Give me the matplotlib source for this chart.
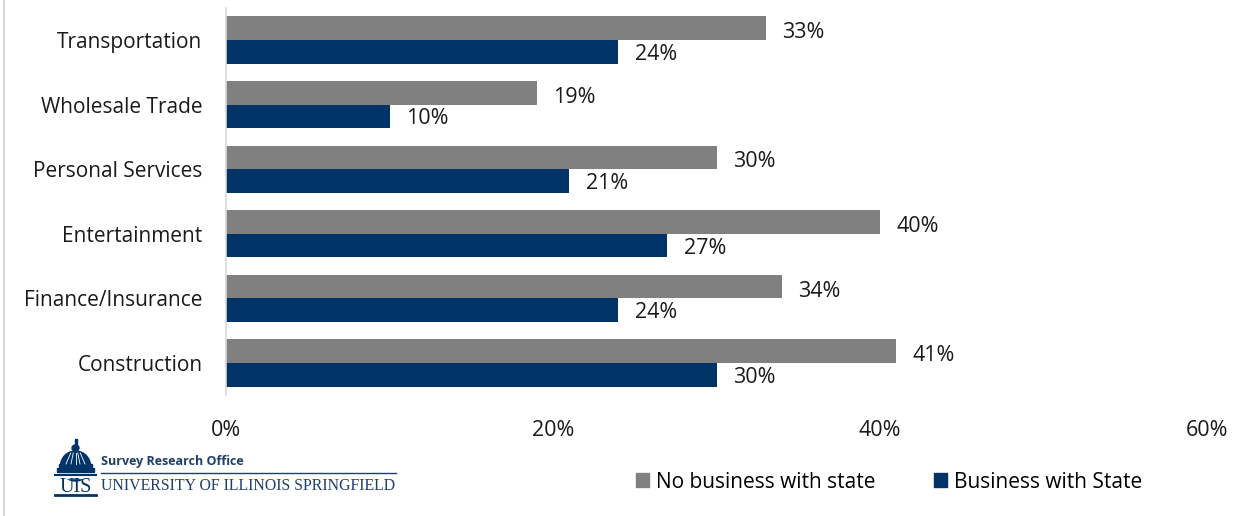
import numpy as np
import matplotlib.pyplot as plt
from matplotlib.lines import Line2D
from matplotlib.patches import Rectangle, Ellipse, Patch

categories = ['Construction', 'Finance/Insurance', 'Entertainment',
              'Personal Services', 'Wholesale Trade', 'Transportation']
no_business = [41, 34, 40, 30, 19, 33]
business = [30, 24, 27, 21, 10, 24]
ticks = [0, 20, 40, 60]

GRAY = '#808080'
NAVY = '#003366'
LOGO = '#1f3f6b'
FONT = 'Open Sans'

W, H = 1251, 516
fig = plt.figure(figsize=(W / 100, H / 100), dpi=100)
ax = fig.add_axes([226 / W, 1 - 395.3 / H, (1207 - 226) / W, (395.3 - 7.7) / H])

y = np.arange(len(categories))
bh = 0.365
ax.barh(y + bh / 2, no_business, height=bh, color=GRAY, label='No business with state')
ax.barh(y - bh / 2, business, height=bh, color=NAVY, label='Business with State')

for yi, v in zip(y, no_business):
    ax.text(v + 1.0, yi + bh / 2 - 0.07, f'{v}%', va='center', ha='left',
            fontsize=15.5, family=FONT, color='#1a1a1a')
for yi, v in zip(y, business):
    ax.text(v + 1.0, yi - bh / 2 - 0.04, f'{v}%', va='center', ha='left',
            fontsize=15.5, family=FONT, color='#1a1a1a')

ax.set_xlim(0, 60)
ax.set_ylim(-0.5, len(categories) - 0.5)
ax.set_yticks(y)
ax.set_yticklabels(categories, family=FONT, fontsize=15, color='#1a1a1a')
ax.set_xticks(ticks)
ax.set_xticklabels([f'{t}%' for t in ticks], family=FONT, fontsize=15.5, color='#1a1a1a')
ax.tick_params(axis='both', length=0)
ax.tick_params(axis='y', pad=17)
ax.tick_params(axis='x', pad=18)
for s in ['top', 'right', 'bottom']:
    ax.spines[s].set_visible(False)
ax.spines['left'].set_color('#d9d9d9')
ax.spines['left'].set_linewidth(1.2)

# legend
handles = [Patch(color=GRAY), Patch(color=NAVY)]
fig.legend(handles, ['No business with state', 'Business with State'],
           loc='center left', bbox_to_anchor=(617 / W, 1 - 482 / H), ncol=2,
           frameon=False, prop={'family': FONT, 'size': 15},
           handlelength=0.63, handleheight=0.63, handletextpad=0.33, columnspacing=2.8)

# left border
fig.add_artist(Line2D([4 / W, 4 / W], [0, 1], color='#d9d9d9', lw=1.5))

# logo, drawn in pixel coordinates on an overlay axes
lg = fig.add_axes([0, 0, 1, 1], zorder=-1)
lg.set_xlim(0, W)
lg.set_ylim(H, 0)
lg.axis('off')
lg.add_patch(Rectangle((74.5, 439), 2, 7, color=NAVY))
lg.add_patch(Ellipse((75.5, 448), 7, 6, color=NAVY))
lg.add_patch(Ellipse((75.5, 466), 30, 30, color=NAVY))
lg.add_patch(Rectangle((58, 466), 36, 12, color='white'))
for rx in [66, 71, 75.5, 80, 85]:
    lg.plot([75.5 + (rx - 75.5) * 0.5, rx], [453, 464], color='white', lw=0.6)
lg.add_patch(Rectangle((59, 464), 33, 3, color=NAVY))
lg.add_patch(Rectangle((57, 468), 37, 4, color=NAVY))
lg.plot([55, 96], [474.5, 474.5], color=NAVY, lw=1.5)
lg.plot([55, 96], [495, 495], color=NAVY, lw=2)
lg.text(75.5, 488, 'UIS', ha='center', va='center', family='Liberation Serif',
        fontsize=14.5, color=NAVY)
lg.text(101, 461, 'Survey Research Office', ha='left', va='center',
        family=FONT, fontsize=9, fontweight='bold', color=LOGO)
lg.plot([101, 396], [473, 473], color=LOGO, lw=1)
lg.text(101, 486, 'UNIVERSITY OF ILLINOIS SPRINGFIELD', ha='left', va='center',
        family='Liberation Serif', fontsize=11.4, color=LOGO)

fig.savefig('out.png', dpi=100)
